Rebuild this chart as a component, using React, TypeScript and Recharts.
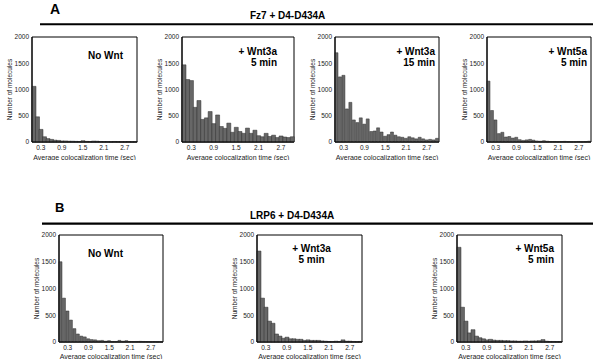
import React from 'react';
import { BarChart, Bar, XAxis, YAxis, ReferenceArea } from 'recharts';

// ---- data ----
const timeBins = [
  '0.1', '0.2', '0.3', '0.4', '0.5', '0.6', '0.7', '0.8', '0.9', '1.0',
  '1.1', '1.2', '1.3', '1.4', '1.5', '1.6', '1.7', '1.8', '1.9', '2.0',
  '2.1', '2.2', '2.3', '2.4', '2.5', '2.6', '2.7', '2.8', '2.9', '3.0',
];
const xTickLabels = ['0.3', '0.9', '1.5', '2.1', '2.7'];
const yTicks = [0, 500, 1000, 1500, 2000];

const fz7NoWnt = [1060, 480, 240, 100, 65, 50, 35, 30, 20, 20, 15, 15, 12, 10, 25, 12, 10, 18, 15, 10, 8, 8, 5, 10, 8, 5, 5, 8, 5, 5];
const fz7Wnt3a5 = [1470, 1190, 1170, 660, 790, 430, 460, 580, 350, 515, 295, 260, 360, 185, 280, 200, 165, 265, 165, 225, 120, 100, 165, 105, 130, 85, 115, 95, 85, 100];
const fz7Wnt3a15 = [1700, 1240, 1270, 630, 755, 420, 370, 460, 340, 440, 200, 210, 270, 190, 110, 140, 190, 130, 100, 90, 70, 100, 80, 60, 90, 60, 40, 50, 40, 70];
const fz7Wnt5a5 = [1160, 600, 420, 160, 185, 95, 105, 75, 90, 45, 30, 40, 50, 35, 20, 15, 25, 15, 10, 10, 8, 10, 12, 8, 5, 5, 10, 5, 8, 15];
const lrp6NoWnt = [1500, 820, 580, 410, 250, 150, 110, 95, 60, 45, 40, 25, 30, 15, 25, 10, 10, 30, 15, 25, 10, 8, 10, 12, 10, 8, 5, 8, 5, 5];
const lrp6Wnt3a5 = [1700, 820, 650, 390, 350, 150, 110, 70, 90, 60, 60, 50, 50, 30, 40, 30, 30, 30, 20, 15, 10, 10, 15, 10, 40, 15, 15, 10, 5, 10];
const lrp6Wnt5a5 = [1770, 650, 390, 170, 230, 110, 80, 60, 40, 50, 35, 30, 30, 25, 25, 20, 20, 15, 15, 20, 15, 20, 20, 25, 45, 15, 10, 10, 8, 8];

const xTitle = 'Average colocalization time (sec)';
const yTitle = 'Number of molecules';

const FONT = '"Liberation Sans", Arial, Helvetica, sans-serif';

type PanelProps = {
  values: number[];
  box: [number, number, number, number];
  xh: number;
};

const YW = 30;
const MT = 5;
const MR = 3;

function Panel({ values, box, xh }: PanelProps) {
  const data = timeBins.map((t, i) => ({ t, n: values[i] }));
  const plotW = box[2] - box[0];
  const plotH = box[3] - box[1];
  const yLabel = () => (
    <text
      x={YW - 23}
      y={MT + plotH / 2}
      transform={`rotate(-90, ${YW - 23}, ${MT + plotH / 2})`}
      textAnchor="middle"
      dominantBaseline="central"
      fontSize={6.5}
      fill="#222"
    >
      {yTitle}
    </text>
  );
  return (
    <div style={{ position: 'absolute', left: box[0] - YW, top: box[1] - MT }}>
      <BarChart
        width={YW + plotW + MR}
        height={MT + plotH + xh}
        data={data}
        margin={{ top: MT, right: MR, left: 0, bottom: 0 }}
        barCategoryGap={0}
        barGap={0}
        style={{ overflow: 'visible' }}
      >
        <XAxis
          dataKey="t"
          interval={0}
          tickLine={false}
          tickSize={2}
          tickMargin={1}
          tickFormatter={(v: string) => (xTickLabels.includes(v) ? v : '')}
          tick={{ fontSize: 6.5, fill: '#222' }}
          axisLine={{ stroke: '#000' }}
          height={xh}
          label={{ value: xTitle, position: 'insideBottom', offset: 0, fontSize: 7, fill: '#222' }}
        />
        <YAxis
          width={YW}
          domain={[0, 2000]}
          ticks={yTicks}
          interval={0}
          tickLine={false}
          tickSize={2}
          tickMargin={1}
          tick={{ fontSize: 6.5, fill: '#222' }}
          axisLine={{ stroke: '#000' }}
          label={yLabel}
        />
        <Bar dataKey="n" fill="#676767" stroke="#2e2e2e" strokeWidth={0.5} isAnimationActive={false} />
        <ReferenceArea y1={0} y2={2000} fill="none" stroke="#000" strokeWidth={1} ifOverflow="visible" />
      </BarChart>
    </div>
  );
}

type Note = { lines: string[]; x: number; y: number[]; anchor: 'end' | 'middle' };

const panels: { values: number[]; box: [number, number, number, number]; xh: number; note: Note }[] = [
  { values: fz7NoWnt, box: [32, 37, 137, 142], xh: 18, note: { lines: ['No Wnt'], x: 123, y: [59], anchor: 'end' } },
  { values: fz7Wnt3a5, box: [182, 37, 294, 142], xh: 18, note: { lines: ['+ Wnt3a', '5 min'], x: 277, y: [55, 66], anchor: 'end' } },
  { values: fz7Wnt3a15, box: [335, 37, 439, 142], xh: 18, note: { lines: ['+ Wnt3a', '15 min'], x: 435, y: [55, 66], anchor: 'end' } },
  { values: fz7Wnt5a5, box: [487, 37, 591, 142], xh: 18, note: { lines: ['+ Wnt5a', '5 min'], x: 587, y: [55, 66], anchor: 'end' } },
  { values: lrp6NoWnt, box: [59, 235, 163, 342], xh: 17, note: { lines: ['No Wnt'], x: 123, y: [257], anchor: 'end' } },
  { values: lrp6Wnt3a5, box: [257, 235, 362, 342], xh: 17, note: { lines: ['+ Wnt3a', '5 min'], x: 311.5, y: [251.5, 262.5], anchor: 'middle' } },
  { values: lrp6Wnt5a5, box: [457, 235, 562, 342], xh: 17, note: { lines: ['+ Wnt5a', '5 min'], x: 554, y: [251.5, 262.5], anchor: 'end' } },
];

export default function App() {
  return (
    <div
      style={{
        position: 'absolute',
        left: 0,
        top: 0,
        width: 600,
        height: 364,
        background: '#fff',
        fontFamily: FONT,
        overflow: 'hidden',
      }}
    >
      {panels.map((p, i) => (
        <Panel key={i} values={p.values} box={p.box} xh={p.xh} />
      ))}
      <svg
        width={600}
        height={364}
        style={{ position: 'absolute', left: 0, top: 0, pointerEvents: 'none', fontFamily: FONT }}
      >
        <text x={50} y={13.5} fontSize={14} fontWeight="bold" fill="#000">A</text>
        <text x={250} y={19} fontSize={10} fontWeight="bold" fill="#000">Fz7 + D4-D434A</text>
        <line x1={40} x2={593} y1={24.3} y2={24.3} stroke="#000" strokeWidth={2} />
        <text x={55} y={212} fontSize={13} fontWeight="bold" fill="#000">B</text>
        <text x={250} y={218.5} fontSize={10} fontWeight="bold" fill="#000">LRP6 + D4-D434A</text>
        <line x1={42} x2={593} y1={223.7} y2={223.7} stroke="#000" strokeWidth={2.3} />
        {panels.map((p, i) =>
          p.note.lines.map((ln, j) => (
            <text
              key={`${i}-${j}`}
              x={p.note.x}
              y={p.note.y[j]}
              textAnchor={p.note.anchor}
              fontSize={10}
              fontWeight="bold"
              fill="#000"
            >
              {ln}
            </text>
          ))
        )}
      </svg>
    </div>
  );
}
